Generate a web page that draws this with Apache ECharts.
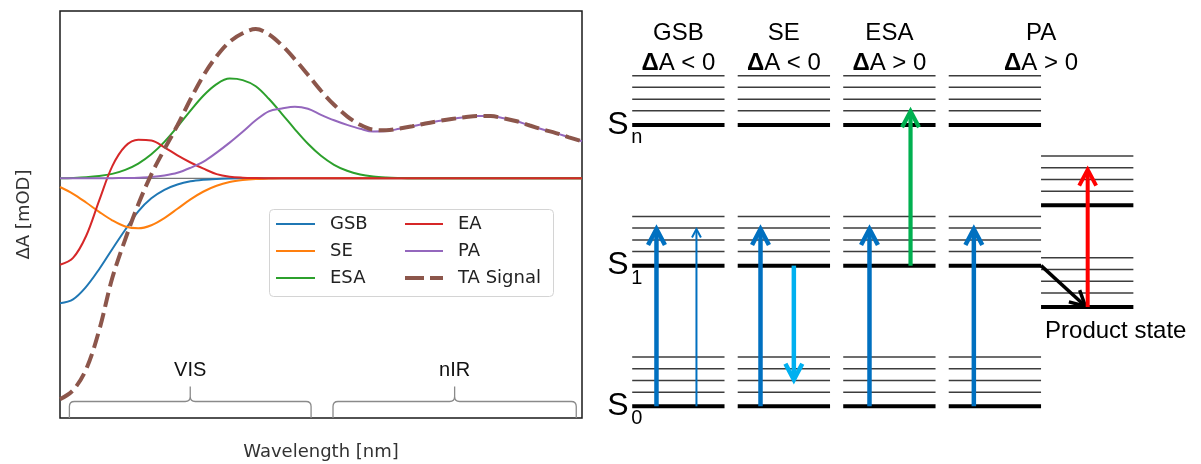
<!DOCTYPE html>
<html>
<head>
<meta charset="utf-8">
<script src="https://cdn.jsdelivr.net/npm/echarts@6/dist/echarts.min.js"></script>
<style>
  html, body { margin: 0; padding: 0; background: #fff; }
  #chart { width: 1201px; height: 464px; }
</style>
</head>
<body>
<div id="chart"></div>
<script>
// ---------- transient absorption spectrum (left panel) ----------
// wavelength axis in arbitrary units (0 = short-wavelength end, 100 = long-wavelength end)
const wavelength = [0, 2.5, 5, 7.5, 10, 12.5, 15, 17.5, 20, 22.5, 25, 27.5, 30, 32.5, 35, 37.5, 40, 42.5, 45, 47.5, 50,
  52.5, 55, 57.5, 60, 62.5, 65, 67.5, 70, 72.5, 75, 77.5, 80, 82.5, 85, 87.5, 90, 92.5, 95, 97.5, 100];

// ground-state bleach
const gsb = [-12.5, -12.1, -10.85, -9.09, -7.09, -5.15, -3.3, -2.0, -1.15, -0.62, -0.3, -0.14, -0.06, -0.02, 0, 0, 0, 0, 0, 0, 0,
  0, 0, 0, 0, 0, 0, 0, 0, 0, 0, 0, 0, 0, 0, 0, 0, 0, 0, 0, 0];
// stimulated emission
const se = [-0.87, -1.55, -2.42, -3.35, -4.2, -4.82, -5.0, -4.69, -3.98, -3.05, -2.11, -1.32, -0.75, -0.38, -0.18, -0.07, -0.03, 0, 0, 0, 0,
  0, 0, 0, 0, 0, 0, 0, 0, 0, 0, 0, 0, 0, 0, 0, 0, 0, 0, 0, 0];
// excited-state absorption
const esa = [0.01, 0.04, 0.1, 0.22, 0.44, 0.84, 1.47, 2.4, 3.64, 5.15, 6.77, 8.28, 9.42, 9.97, 9.82, 9.2, 7.95, 6.45, 4.9, 3.45, 2.25,
  1.35, 0.75, 0.38, 0.18, 0.08, 0.03, 0, 0, 0, 0, 0, 0, 0, 0, 0, 0, 0, 0, 0, 0];
// electro-absorption
const ea = [-8.65, -7.96, -5.77, -2.23, 1.19, 3.2, 3.85, 3.79, 3.1, 2.29, 1.58, 0.96, 0.42, 0.16, 0.06, 0.02, 0, 0, 0, 0, 0,
  0, 0, 0, 0, 0, 0, 0, 0, 0, 0, 0, 0, 0, 0, 0, 0, 0, 0, 0, 0];
// photoinduced (product) absorption
const pa = [0, 0, 0, 0, 0.01, 0.03, 0.06, 0.13, 0.28, 0.55, 1.05, 1.67, 2.57, 3.57, 4.66, 5.8, 6.7, 6.98, 7.15, 6.95, 6.35,
  5.8, 5.34, 4.95, 4.68, 4.72, 4.95, 5.2, 5.48, 5.72, 5.93, 6.1, 6.23, 6.22, 6.0, 5.7, 5.28, 4.88, 4.52, 4.1, 3.7];
// total transient absorption signal
const taSignal = [-22.1, -21.2, -19.1, -15.2, -10.0, -6.1, -2.6, 0.4, 2.9, 5.3, 7.9, 10.3, 12.2, 13.65, 14.5, 14.93, 14.4, 13.3, 11.9, 10.35, 8.75,
  7.35, 6.2, 5.35, 4.86, 4.8, 4.98, 5.2, 5.48, 5.72, 5.93, 6.1, 6.23, 6.22, 6.0, 5.7, 5.28, 4.88, 4.52, 4.1, 3.7];
// zero-signal reference line
const baseline = [0, 0];
const baselineX = [0, 100];

const seriesNames = ['GSB', 'SE', 'ESA', 'EA', 'PA', 'TA Signal'];

// spectral regions marked with braces under the curves
const bandNames = ['VIS', 'nIR'];
const bandStart = [1.8, 52.3];
const bandEnd = [48.1, 98.9];

// ---------- energy level scheme (right panel) ----------
const processes = ['GSB', 'SE', 'ESA', 'PA'];
const signs = ['ΔA < 0', 'ΔA < 0', 'ΔA > 0', 'ΔA > 0'];
const stateLabels = ['0', '1', 'n'];
const stateEnergy = [0, 1, 2];
const vibrationalLevels = [0.1, 0.183, 0.267, 0.35];
const productEnergy = [0.706, 1.429];
// transitions: [fromColumn, lane, fromEnergy, toColumn, lane, toEnergy, kind]
// column 4 is the product state
const transitions = [
  [0, 0.23, 0, 0, 0.23, 1.26, 0],
  [0, 0.609, 0, 0, 0.609, 1.26, 1],
  [1, 0.216, 0, 1, 0.216, 1.26, 0],
  [1, 0.532, 1, 1, 0.532, 0.19, 2],
  [2, 0.249, 0, 2, 0.249, 1.26, 0],
  [2, 0.638, 1, 2, 0.638, 2.097, 3],
  [3, 0.238, 0, 3, 0.238, 1.26, 0],
  [3, 0.875, 1, 4, 0.42, 0.712, 5],
  [4, 0.442, 0.706, 4, 0.442, 1.682, 4]
];

// ---------- styling ----------
const colors = ['#1f77b4', '#ff7f0e', '#2ca02c', '#d62728', '#9467bd', '#8c564b'];
const arrowKinds = [
  { color: '#0070c0', width: 4.5, head: 18 },
  { color: '#0070c0', width: 2, head: 9.5 },
  { color: '#00b0f0', width: 4.5, head: 18 },
  { color: '#00b050', width: 4.2, head: 18 },
  { color: '#ff0000', width: 4, head: 18 },
  { color: '#000000', width: 3.5, head: 17 }
];
// legend handles: a thin bar for solid lines, two thick dashes for the dashed signal
const SOLID_ICON = 'path://M0,0M0,1H39V3H0ZM39,4';
const DASHED_ICON = 'path://M0,0H19V4H0ZM25,0H38V4H25Z';
const COL_W = 0.875;
const colStart = c => (c < 4 ? c : 3 + COL_W);
const ARIAL = '"Liberation Sans", Arial, Helvetica, sans-serif';
const DEJAVU = '"DejaVu Sans", sans-serif';
const Y_MIN = -23.97, Y_MAX = 16.73;

const chart = echarts.init(document.getElementById('chart'), null, { renderer: 'canvas' });

const baselineSeries = {
  name: 'zero', type: 'line', xAxisIndex: 0, yAxisIndex: 0, silent: true,
  data: baselineX.map((x, i) => [x, baseline[i]]),
  symbol: 'none', lineStyle: { color: '#777', width: 1.2 }, z: 1
};

const spectra = [gsb, se, esa, ea, pa, taSignal];
const lineSeries = spectra.map((arr, i) => ({
  name: seriesNames[i],
  type: 'line',
  xAxisIndex: 0,
  yAxisIndex: 0,
  data: wavelength.map((w, j) => [w, arr[j]]),
  symbol: 'none',
  smooth: 0.35,
  color: colors[i],
  lineStyle: i === 5
    ? { color: colors[i], width: 4, type: [14.8, 6.4] }
    : { color: colors[i], width: 2 },
  z: 2 + i * 0.01
}));

// braces marking the spectral regions
const braceSeries = {
  type: 'custom',
  xAxisIndex: 0, yAxisIndex: 0,
  silent: true, clip: false, z: 3,
  data: bandStart.map((s, i) => [s, bandEnd[i]]),
  encode: { x: [0, 1] },
  renderItem: (params, api) => {
    const x0 = api.value(0), x1 = api.value(1);
    const L = api.coord([x0, Y_MIN]), R = api.coord([x1, Y_MIN]);
    const foot = L[1];
    const mx = (L[0] + R[0]) / 2;
    const y = foot - 16.5, tip = y - 15, r = 5;
    const d = `M${L[0]},${foot} L${L[0]},${y + r} Q${L[0]},${y} ${L[0] + r},${y} L${mx - r},${y} Q${mx},${y} ${mx},${y - r} L${mx},${tip} ` +
      `M${mx},${y - r} Q${mx},${y} ${mx + r},${y} L${R[0] - r},${y} Q${R[0]},${y} ${R[0]},${y + r} L${R[0]},${foot}`;
    return {
      type: 'group',
      children: [
        { type: 'path', shape: { pathData: d }, style: { stroke: '#8a8a8a', lineWidth: 1.3, fill: null } },
        { type: 'text', x: mx, y: tip - 16.5,
          style: { text: bandNames[params.dataIndex], fill: '#111', fontSize: 20, fontFamily: ARIAL, align: 'center', verticalAlign: 'middle' } }
      ]
    };
  }
};

// energy levels
const levelData = [];
for (let c = 0; c < 4; c++) {
  stateEnergy.forEach(e => {
    levelData.push([colStart(c), colStart(c) + COL_W, e, 1]);
    vibrationalLevels.forEach(v => levelData.push([colStart(c), colStart(c) + COL_W, e + v, 0]));
  });
}
productEnergy.forEach(e => {
  levelData.push([colStart(4), colStart(4) + COL_W, e, 1]);
  vibrationalLevels.forEach(v => levelData.push([colStart(4), colStart(4) + COL_W, e + v, 0]));
});

const levelSeries = {
  type: 'custom', xAxisIndex: 1, yAxisIndex: 1, silent: true, clip: false, z: 2,
  data: levelData,
  encode: { x: [0, 1], y: 2 },
  renderItem: (params, api) => {
    const a = api.coord([api.value(0), api.value(2)]);
    const b = api.coord([api.value(1), api.value(2)]);
    const thick = api.value(3) === 1;
    return {
      type: 'line',
      shape: { x1: a[0], y1: a[1], x2: b[0], y2: b[1] },
      style: { stroke: thick ? '#000' : '#3c3c3c', lineWidth: thick ? 4 : 1.5 }
    };
  }
};

const arrowSeries = {
  type: 'custom', xAxisIndex: 1, yAxisIndex: 1, silent: true, clip: false, z: 4,
  data: transitions.map(t => [colStart(t[0]) + t[1], t[2], colStart(t[3]) + t[4], t[5], t[6]]),
  encode: { x: [0, 2], y: [1, 3] },
  renderItem: (params, api) => {
    const p0 = api.coord([api.value(0), api.value(1)]);
    const p1 = api.coord([api.value(2), api.value(3)]);
    const k = arrowKinds[api.value(4)];
    const dx = p1[0] - p0[0], dy = p1[1] - p0[1];
    const len = Math.hypot(dx, dy);
    const ux = dx / len, uy = dy / len;
    const ang = 28 * Math.PI / 180;
    const arm = s => {
      const c = Math.cos(s * ang), si = Math.sin(s * ang);
      const rx = ux * c - uy * si, ry = ux * si + uy * c;
      return [p1[0] - rx * k.head, p1[1] - ry * k.head];
    };
    const end = [p1[0] - ux * k.width * 0.6, p1[1] - uy * k.width * 0.6];
    return {
      type: 'group',
      children: [
        { type: 'line', shape: { x1: p0[0], y1: p0[1], x2: end[0], y2: end[1] },
          style: { stroke: k.color, lineWidth: k.width } },
        { type: 'polyline', shape: { points: [arm(1), p1, arm(-1)] },
          style: { stroke: k.color, lineWidth: k.width, fill: null, lineJoin: 'miter' } }
      ]
    };
  }
};

// text of the energy scheme: process titles, state labels, product label
const textItems = [];
processes.forEach((p, i) => {
  const x0 = colStart(i), x1 = i === 3 ? colStart(4) + COL_W : colStart(i) + COL_W;
  textItems.push({ x: (x0 + x1) / 2, e: stateEnergy[2] + vibrationalLevels[3], dy: -42.7, text: p, kind: 'title' });
  textItems.push({ x: (x0 + x1) / 2, e: stateEnergy[2] + vibrationalLevels[3], dy: -12.4, text: signs[i], kind: 'sign' });
});
stateLabels.forEach((s, i) => {
  textItems.push({ x: colStart(0), e: stateEnergy[i], dy: 0, text: 'S', kind: 'state' });
  textItems.push({ x: colStart(0), e: stateEnergy[i], dy: 12.5, text: s, kind: 'sub' });
});
textItems.push({ x: colStart(4), e: productEnergy[0], dy: 24.4, text: 'Product state', kind: 'product' });

const textSeries = {
  type: 'custom', xAxisIndex: 1, yAxisIndex: 1, silent: true, clip: false, z: 5,
  data: textItems.map(t => [t.x, t.e]),
  encode: { x: 0, y: 1 },
  renderItem: (params, api) => {
    const t = textItems[params.dataIndex];
    const p = api.coord([api.value(0), api.value(1)]);
    const base = { fill: '#000', fontFamily: ARIAL, verticalAlign: 'middle' };
    let style, x = p[0];
    if (t.kind === 'title') {
      style = Object.assign({}, base, { text: t.text, fontSize: 24, align: 'center' });
    } else if (t.kind === 'sign') {
      const rest = t.text.slice(1);
      style = Object.assign({}, base, {
        text: '{d|Δ}{n|' + rest + '}', align: 'center',
        rich: {
          d: { fontSize: 24, fontFamily: ARIAL, fontWeight: 'bold', fill: '#000' },
          n: { fontSize: 24, fontFamily: ARIAL, fill: '#000' }
        }
      });
    } else if (t.kind === 'state') {
      style = Object.assign({}, base, { text: t.text, fontSize: 32, align: 'right' });
      x = p[0] - 3.5;
    } else if (t.kind === 'sub') {
      style = Object.assign({}, base, { text: t.text, fontSize: 20, align: 'left' });
      x = p[0] - 1;
    } else {
      style = Object.assign({}, base, { text: t.text, fontSize: 24, align: 'left' });
      x = p[0] + 4;
    }
    return { type: 'text', x: x, y: p[1] + t.dy, style: style };
  }
};

const legendText = { fontFamily: DEJAVU, fontSize: 18, color: '#222', lineHeight: 18, padding: [0, 0, 0, 10] };
const legendItem = name => ({ name: name, icon: name === 'TA Signal' ? DASHED_ICON : SOLID_ICON });

const option = {
  animation: false,
  backgroundColor: '#fff',
  grid: [
    { left: 60, top: 11, width: 522, height: 407, show: true, borderColor: '#1a1a1a', borderWidth: 1.5,
      backgroundColor: 'transparent', containLabel: false, outerBoundsMode: 'none' },
    { left: 590, top: 0, width: 611, height: 464, show: false, containLabel: false, outerBoundsMode: 'none' }
  ],
  xAxis: [
    { type: 'value', gridIndex: 0, min: 0, max: 100,
      axisLine: { show: false }, axisTick: { show: false }, axisLabel: { show: false }, splitLine: { show: false },
      name: 'Wavelength [nm]', nameLocation: 'middle', nameGap: 25,
      nameTextStyle: { fontFamily: DEJAVU, fontSize: 18, color: '#333' } },
    { type: 'value', gridIndex: 1, min: -0.4, max: 5.391, show: false }
  ],
  yAxis: [
    { type: 'value', gridIndex: 0, min: Y_MIN, max: Y_MAX,
      axisLine: { show: false }, axisTick: { show: false }, axisLabel: { show: false }, splitLine: { show: false },
      name: 'ΔA [mOD]', nameLocation: 'middle', nameGap: 27, nameRotate: 90,
      nameTextStyle: { fontFamily: DEJAVU, fontSize: 18, color: '#333' } },
    { type: 'value', gridIndex: 1, min: -0.41, max: 2.888, show: false }
  ],
  legend: [
    { data: seriesNames.slice(0, 3).map(legendItem), orient: 'vertical', left: 276, top: 215, padding: 0,
      itemWidth: 39, itemHeight: 4, itemGap: 9, textStyle: legendText, selectedMode: false, z: 6 },
    { data: seriesNames.slice(3).map(legendItem), orient: 'vertical', left: 405, top: 215, padding: 0,
      itemWidth: 38, itemHeight: 4, itemGap: 9, textStyle: legendText, selectedMode: false, z: 6 }
  ],
  graphic: [
    { type: 'rect', left: 269, top: 209, z: 5, silent: true,
      shape: { width: 284, height: 87, r: 4 },
      style: { fill: 'rgba(255,255,255,0.85)', stroke: '#d4d4d4', lineWidth: 1 } }
  ],
  series: [baselineSeries].concat(lineSeries, [braceSeries, levelSeries, arrowSeries, textSeries])
};

chart.setOption(option);
</script>
</body>
</html>
